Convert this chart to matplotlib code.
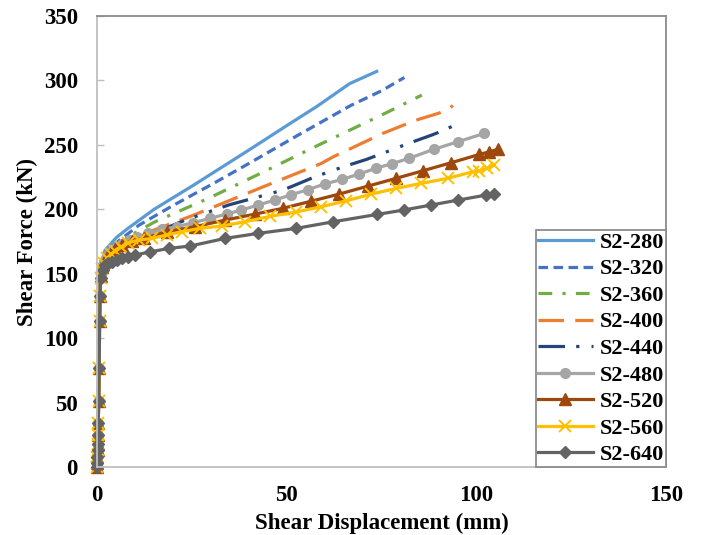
import matplotlib
matplotlib.use("Agg")
import matplotlib.pyplot as plt

plt.rcParams['font.family'] = ['Liberation Serif', 'DejaVu Serif']
plt.rcParams['font.weight'] = 'bold'

# Shear displacement (mm) / shear force (kN) for each specimen
d_280 = [0, 0.1, 0.25, 0.4, 0.55, 0.7, 1.0, 2, 5, 8, 15, 25, 40, 50, 57.8, 66.6, 73.7]
f_280 = [0, 20, 50, 80, 115, 140, 158, 168, 178, 185, 200, 218, 246, 265, 279.6, 297.6, 307]

d_320 = [0, 0.1, 0.25, 0.4, 0.55, 0.7, 1.0, 2, 5, 11, 20, 30, 40, 53, 67, 75, 81]
f_320 = [0, 20, 50, 80, 115, 138, 156, 165, 174, 187.7, 203, 219, 235.6, 257.6, 280.8, 292, 302.3]

d_360 = [0, 0.1, 0.25, 0.4, 0.55, 0.7, 1.0, 2, 5, 8.2, 15, 29.3, 43, 57.4, 66.6, 76.2, 85.6]
f_360 = [0, 20, 50, 80, 115, 137, 155, 163, 171, 178.7, 190, 208.5, 227.8, 248.5, 261.4, 274.9, 288.6]

d_400 = [0, 0.1, 0.25, 0.4, 0.55, 0.7, 1.0, 2, 5, 12.6, 25, 36.3, 43.8, 59.1, 62.2, 75.3, 84.1, 90, 92.5, 93.8]
f_400 = [0, 20, 50, 80, 115, 136, 154, 162, 169, 181.3, 195, 208.5, 217.5, 235.6, 240.7, 258.9, 269.2, 274.5, 277.5, 280.5]

d_440 = [0, 0.1, 0.25, 0.4, 0.55, 0.7, 1.0, 2, 5, 12, 23.2, 34.6, 49, 57.4, 64.9, 71, 78.2, 81.6, 88.2, 91.5, 94.8]
f_440 = [0, 20, 50, 80, 115, 135, 153, 160, 167, 178, 191.6, 203.3, 214.9, 225.2, 233, 238.7, 246.7, 250.6, 257.6, 261.4, 266.1]

d_480 = [0, 0.02, 0.05, 0.08, 0.12, 0.17, 0.25, 0.37, 0.5, 0.6, 0.7, 0.85, 1.2, 1.8, 2.6, 3.6, 5, 6.6,
         8.3, 10.4, 13.5, 17, 21, 25.3, 29.7, 34.1, 38, 42.4, 46.8, 51.2, 55.6, 60, 64.6, 69, 73.4,
         77.8, 82.2, 88.7, 95.1, 102.1]
f_480 = [0, 3, 8, 13, 18, 25, 34, 51, 77, 113, 133, 148, 156, 160, 164, 167, 170, 173,
         176, 178.7, 181.3, 184.4, 186.5, 189.6, 192.9, 196.3, 199.4, 203.3, 207.1, 211.4, 215.2, 219.7,
         223.2, 227.3, 231.7, 235.5, 239.5, 246.5, 252.4, 258.9]

d_520 = [0, 0.02, 0.05, 0.08, 0.12, 0.17, 0.25, 0.37, 0.5, 0.6, 0.7, 0.85, 1.2, 1.8, 2.6, 3.6, 4.7, 6.5,
         9.1, 12.2, 18.3, 25.8, 33.7, 41.5, 49, 56.3, 63.8, 71.4, 78.8, 85.9, 93.3, 100.8, 103.4, 105.6]
f_520 = [0, 3, 8, 13, 18, 25, 34, 51, 77, 113, 133, 148, 155, 159, 163, 166, 169, 172.2,
         175.5, 177.4, 182.5, 186.5, 191.6, 196.2, 200.8, 206.2, 211.8, 218, 224, 229.9, 236.1, 242.6,
         244.6, 246.5]

d_560 = [0, 0.02, 0.05, 0.08, 0.12, 0.17, 0.25, 0.37, 0.5, 0.6, 0.7, 0.85, 1.2, 1.8, 2.6, 3.6, 4.8, 6.3,
         8.2, 10.9, 14.4, 18.3, 22.3, 27.1, 32.8, 38.9, 45.5, 52.3, 59.1, 65.7, 72.3, 78.8, 85.4, 92.4,
         99, 100.8, 102.7, 104.7]
f_560 = [0, 3, 8, 13, 18, 25, 34, 51, 77, 113, 133, 147, 154, 158, 162, 165, 168, 170.5,
         174, 176.1, 177.4, 180, 182.6, 185.2, 187, 190.3, 194.5, 197.8, 202, 206.6, 211.8, 216.2,
         220.1, 224, 229.1, 229.9, 231.7, 234.3]

d_640 = [0, 0.02, 0.05, 0.08, 0.12, 0.17, 0.25, 0.37, 0.5, 0.6, 0.7, 0.9, 1.4, 2.1, 2.9, 3.9, 5.1, 6.5,
         8.1, 10, 14, 18.8, 24.5, 33.7, 42.4, 52.5, 62.2, 73.8, 80.8, 88, 95.1, 102.5, 104.7]
f_640 = [0, 3, 8, 13, 18, 25, 34, 51, 77, 113, 133, 147, 153, 156.7, 158, 159.3, 160.5, 161.9,
         163.2, 164.5, 167, 169.6, 171.5, 177.4, 181.3, 185.2, 190.3, 196, 199.4, 203.3, 207.1, 211,
         211.8]

labels = ['S2-280', 'S2-320', 'S2-360', 'S2-400', 'S2-440', 'S2-480', 'S2-520', 'S2-560', 'S2-640']
x_ticks = [0, 50, 100, 150]
y_ticks = [0, 50, 100, 150, 200, 250, 300, 350]

series = [
    (d_280, f_280, dict(color='#5B9BD5', linestyle='-')),
    (d_320, f_320, dict(color='#4472C4', linestyle=(0, (3, 1.7)))),
    (d_360, f_360, dict(color='#70AD47', linestyle=(0, (4.3, 3.2, 1, 3.2)))),
    (d_400, f_400, dict(color='#ED7D31', linestyle=(0, (8, 3.5)))),
    (d_440, f_440, dict(color='#264478', linestyle=(0, (8.3, 3.5, 1, 3.8, 1, 3.5)))),
    (d_480, f_480, dict(color='#A5A5A5', linestyle='-', marker='o', markersize=7)),
    (d_520, f_520, dict(color='#9E480E', linestyle='-', marker='^', markersize=8)),
    (d_560, f_560, dict(color='#FFC000', linestyle='-', marker='x', markersize=8, markeredgewidth=1.4)),
    (d_640, f_640, dict(color='#636363', linestyle='-', marker='D', markersize=6)),
]

fig = plt.figure(figsize=(7.01, 5.35), dpi=100)
ax = fig.add_axes([97.3 / 701, 1 - 467 / 535, (666 - 97.3) / 701, (467 - 16) / 535])

for (xd, yd, style), lab in zip(series, labels):
    ax.plot(xd, yd, linewidth=2.3, label=lab, clip_on=False, **style)

ax.set_xlim(0, 150)
ax.set_ylim(0, 350)
ax.set_xticks(x_ticks)
ax.set_yticks(y_ticks)
ax.tick_params(axis='y', direction='in', length=5, width=1, color='#BFBFBF',
               pad=14, labelsize=16.5)
ax.tick_params(axis='x', length=0, pad=13, labelsize=16.5)
for t in ax.get_xticklabels() + ax.get_yticklabels():
    t.set_fontweight('bold')

for side in ('left', 'bottom'):
    ax.spines[side].set_color('#BFBFBF')
    ax.spines[side].set_linewidth(1.3)
for side in ('top', 'right'):
    ax.spines[side].set_color('#8C8C8C')
    ax.spines[side].set_linewidth(1.3)

ax.set_xlabel('Shear Displacement (mm)', fontsize=16.5, fontweight='bold', labelpad=5)
ax.set_ylabel('Shear Force (kN)', fontsize=16.5, fontweight='bold', labelpad=4)

leg = ax.legend(loc='lower right', bbox_to_anchor=(1, 0), borderaxespad=0,
                fancybox=False, framealpha=1, edgecolor='#8C8C8C',
                prop={'family': 'Liberation Serif', 'weight': 'bold', 'size': 16},
                handlelength=2.5, handletextpad=0.3, labelspacing=0.27,
                borderpad=0.08, numpoints=1)
leg.get_frame().set_linewidth(1.3)

fig.savefig('out.png', dpi=100)
